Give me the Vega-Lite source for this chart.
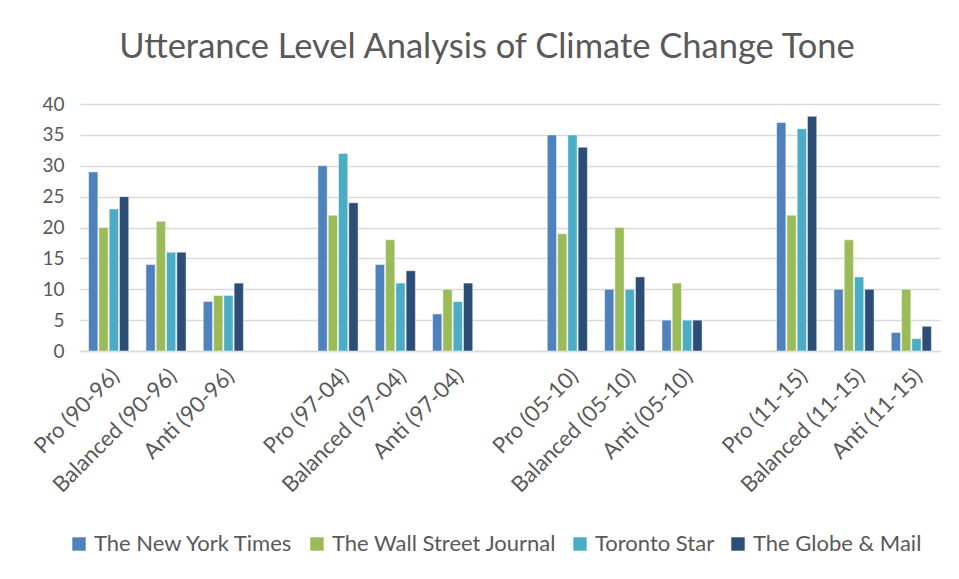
{
  "$schema": "https://vega.github.io/schema/vega-lite/v6.json",
  "autosize": "none",
  "width": 860,
  "height": 247,
  "padding": {"left": 80, "top": 104, "right": 19, "bottom": 228},
  "background": "white",
  "title": {
    "text": "Utterance Level Analysis of Climate Change Tone",
    "font": "Lato",
    "fontSize": 34.5,
    "fontWeight": "normal",
    "color": "#595959",
    "anchor": "middle",
    "dx": -23,
    "offset": 30
  },
  "data": {
    "values": [
      {"cat": "Pro (90-96)", "paper": "The New York Times", "v": 29},
      {"cat": "Pro (90-96)", "paper": "The Wall Street Journal", "v": 20},
      {"cat": "Pro (90-96)", "paper": "Toronto Star", "v": 23},
      {"cat": "Pro (90-96)", "paper": "The Globe & Mail", "v": 25},
      {"cat": "Balanced (90-96)", "paper": "The New York Times", "v": 14},
      {"cat": "Balanced (90-96)", "paper": "The Wall Street Journal", "v": 21},
      {"cat": "Balanced (90-96)", "paper": "Toronto Star", "v": 16},
      {"cat": "Balanced (90-96)", "paper": "The Globe & Mail", "v": 16},
      {"cat": "Anti (90-96)", "paper": "The New York Times", "v": 8},
      {"cat": "Anti (90-96)", "paper": "The Wall Street Journal", "v": 9},
      {"cat": "Anti (90-96)", "paper": "Toronto Star", "v": 9},
      {"cat": "Anti (90-96)", "paper": "The Globe & Mail", "v": 11},
      {"cat": "Pro (97-04)", "paper": "The New York Times", "v": 30},
      {"cat": "Pro (97-04)", "paper": "The Wall Street Journal", "v": 22},
      {"cat": "Pro (97-04)", "paper": "Toronto Star", "v": 32},
      {"cat": "Pro (97-04)", "paper": "The Globe & Mail", "v": 24},
      {"cat": "Balanced (97-04)", "paper": "The New York Times", "v": 14},
      {"cat": "Balanced (97-04)", "paper": "The Wall Street Journal", "v": 18},
      {"cat": "Balanced (97-04)", "paper": "Toronto Star", "v": 11},
      {"cat": "Balanced (97-04)", "paper": "The Globe & Mail", "v": 13},
      {"cat": "Anti (97-04)", "paper": "The New York Times", "v": 6},
      {"cat": "Anti (97-04)", "paper": "The Wall Street Journal", "v": 10},
      {"cat": "Anti (97-04)", "paper": "Toronto Star", "v": 8},
      {"cat": "Anti (97-04)", "paper": "The Globe & Mail", "v": 11},
      {"cat": "Pro (05-10)", "paper": "The New York Times", "v": 35},
      {"cat": "Pro (05-10)", "paper": "The Wall Street Journal", "v": 19},
      {"cat": "Pro (05-10)", "paper": "Toronto Star", "v": 35},
      {"cat": "Pro (05-10)", "paper": "The Globe & Mail", "v": 33},
      {"cat": "Balanced (05-10)", "paper": "The New York Times", "v": 10},
      {"cat": "Balanced (05-10)", "paper": "The Wall Street Journal", "v": 20},
      {"cat": "Balanced (05-10)", "paper": "Toronto Star", "v": 10},
      {"cat": "Balanced (05-10)", "paper": "The Globe & Mail", "v": 12},
      {"cat": "Anti (05-10)", "paper": "The New York Times", "v": 5},
      {"cat": "Anti (05-10)", "paper": "The Wall Street Journal", "v": 11},
      {"cat": "Anti (05-10)", "paper": "Toronto Star", "v": 5},
      {"cat": "Anti (05-10)", "paper": "The Globe & Mail", "v": 5},
      {"cat": "Pro (11-15)", "paper": "The New York Times", "v": 37},
      {"cat": "Pro (11-15)", "paper": "The Wall Street Journal", "v": 22},
      {"cat": "Pro (11-15)", "paper": "Toronto Star", "v": 36},
      {"cat": "Pro (11-15)", "paper": "The Globe & Mail", "v": 38},
      {"cat": "Balanced (11-15)", "paper": "The New York Times", "v": 10},
      {"cat": "Balanced (11-15)", "paper": "The Wall Street Journal", "v": 18},
      {"cat": "Balanced (11-15)", "paper": "Toronto Star", "v": 12},
      {"cat": "Balanced (11-15)", "paper": "The Globe & Mail", "v": 10},
      {"cat": "Anti (11-15)", "paper": "The New York Times", "v": 3},
      {"cat": "Anti (11-15)", "paper": "The Wall Street Journal", "v": 10},
      {"cat": "Anti (11-15)", "paper": "Toronto Star", "v": 2},
      {"cat": "Anti (11-15)", "paper": "The Globe & Mail", "v": 4}
    ]
  },
  "mark": {"type": "bar", "stroke": "white", "strokeWidth": 0.8, "strokeOpacity": 0.6},
  "encoding": {
    "x": {
      "field": "cat",
      "type": "nominal",
      "title": null,
      "scale": {
        "domain": ["Pro (90-96)", "Balanced (90-96)", "Anti (90-96)", " ",
                   "Pro (97-04)", "Balanced (97-04)", "Anti (97-04)", "  ",
                   "Pro (05-10)", "Balanced (05-10)", "Anti (05-10)", "   ",
                   "Pro (11-15)", "Balanced (11-15)", "Anti (11-15)"],
        "paddingInner": 0.3,
        "paddingOuter": 0.15
      },
      "axis": {
        "labelAngle": -45,
        "labelFont": "Lato",
        "labelFontSize": 22,
        "labelColor": "#595959",
        "labelPadding": 14,
        "ticks": false,
        "domainColor": "#d9d9d9",
        "domainWidth": 1.5,
        "grid": false,
        "labelOverlap": false,
        "labelLimit": 300
      }
    },
    "xOffset": {
      "field": "paper",
      "type": "nominal",
      "sort": ["The New York Times", "The Wall Street Journal", "Toronto Star", "The Globe & Mail"],
      "scale": {"paddingInner": 0.1}
    },
    "y": {
      "field": "v",
      "type": "quantitative",
      "title": null,
      "scale": {"domain": [0, 40]},
      "axis": {
        "values": [0, 5, 10, 15, 20, 25, 30, 35, 40],
        "labelFont": "Lato",
        "labelFontSize": 19,
        "labelColor": "#595959",
        "labelPadding": 16,
        "ticks": false,
        "domain": false,
        "gridColor": "#d9d9d9",
        "gridWidth": 1.3
      }
    },
    "color": {
      "field": "paper",
      "type": "nominal",
      "title": null,
      "sort": ["The New York Times", "The Wall Street Journal", "Toronto Star", "The Globe & Mail"],
      "scale": {
        "domain": ["The New York Times", "The Wall Street Journal", "Toronto Star", "The Globe & Mail"],
        "range": ["#4F81BD", "#9BBB59", "#4BACC6", "#2C4D75"]
      },
      "legend": {
        "orient": "none",
        "direction": "horizontal",
        "legendX": -12,
        "legendY": 429,
        "symbolType": "square",
        "symbolSize": 180,
        "symbolStrokeWidth": 0,
        "labelFont": "Lato",
        "labelFontSize": 22,
        "labelColor": "#595959",
        "labelLimit": 400,
        "columnPadding": 12,
        "labelOffset": 4
      }
    }
  },
  "config": {"view": {"stroke": null}}
}
